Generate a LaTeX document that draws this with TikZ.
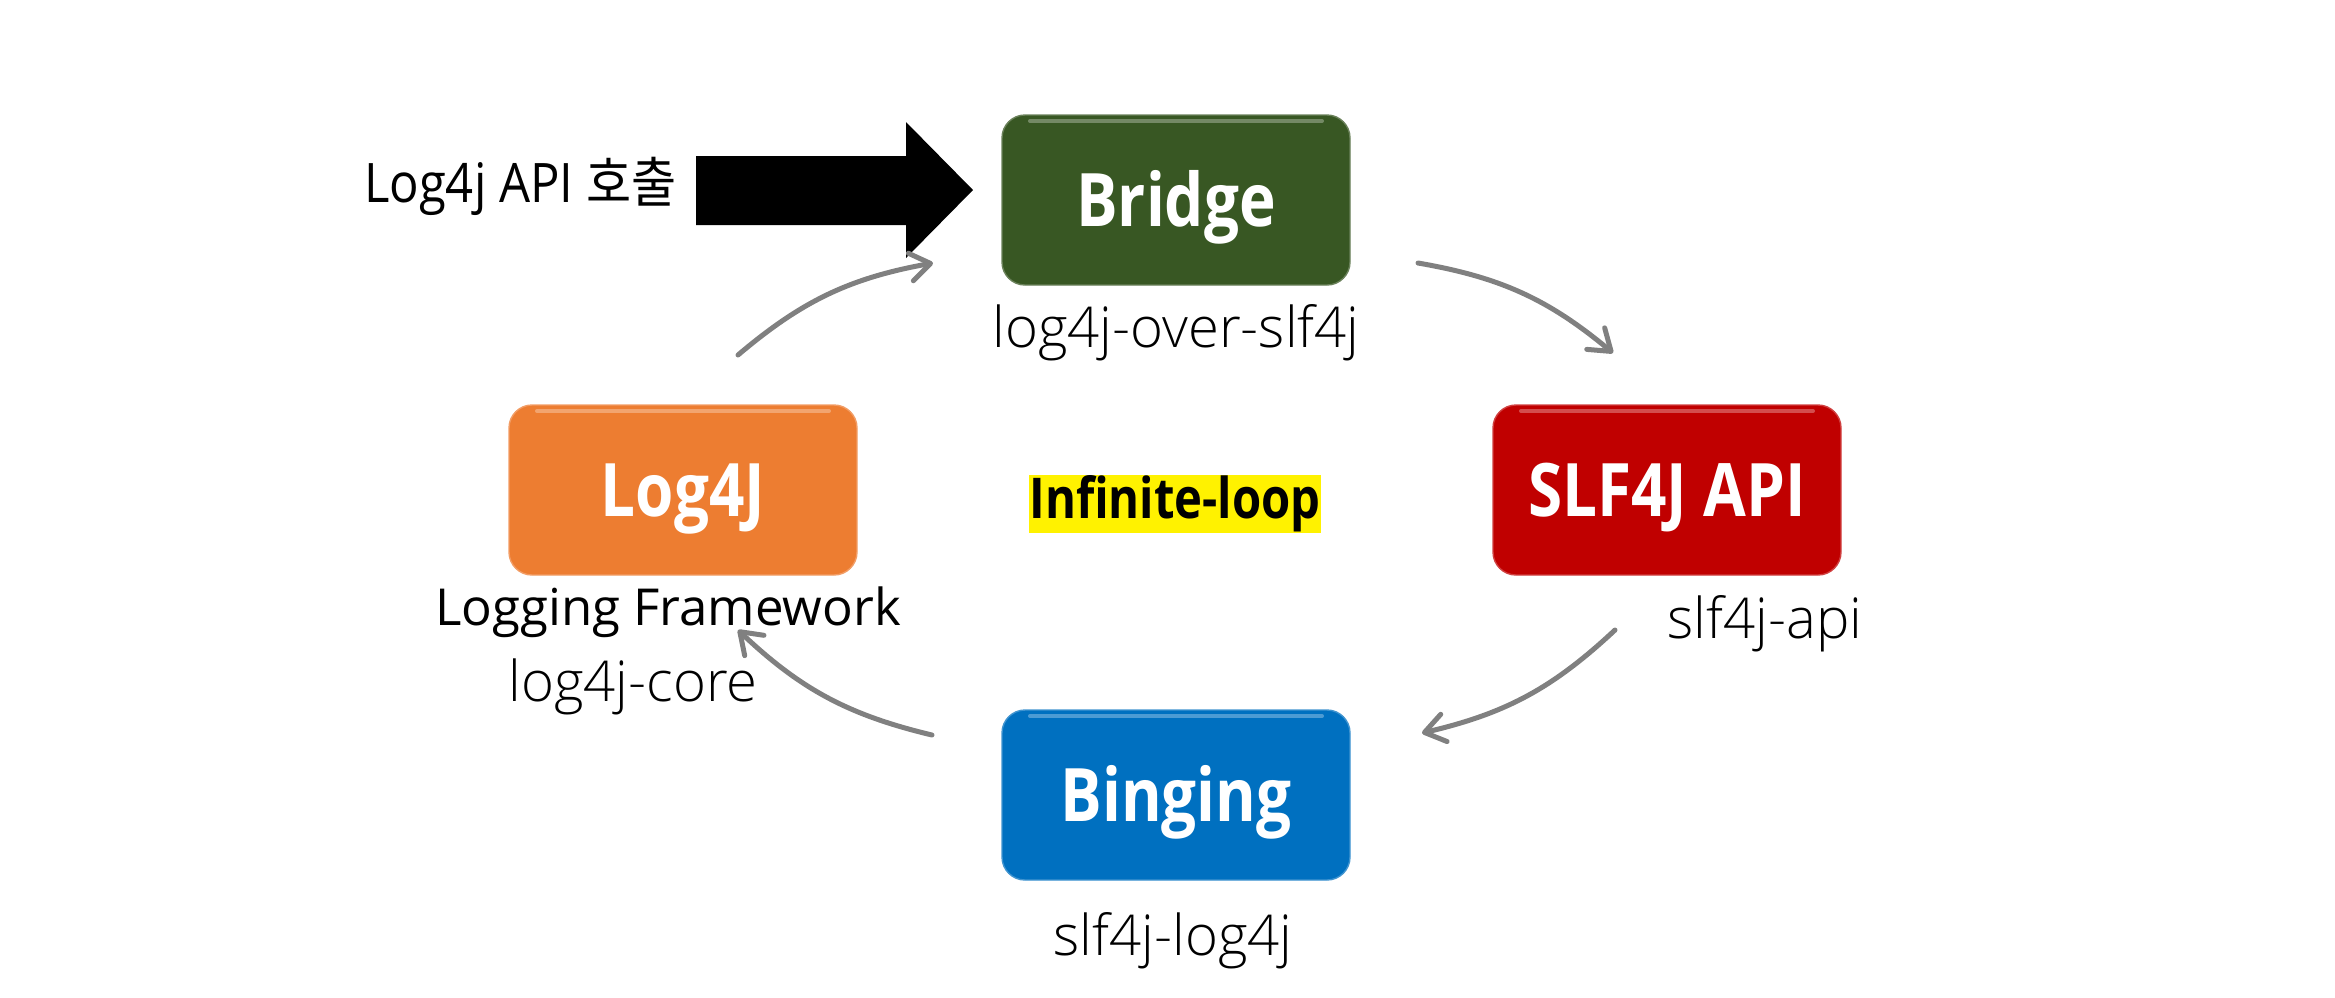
\documentclass[tikz,border=0pt]{standalone}
\usepackage{fontspec}
\setmainfont{Open Sans}
\newfontfamily\boxfont[FakeStretch=0.84]{Open Sans}
\newfontfamily\callfont[FakeStretch=0.9]{Open Sans}
\newfontfamily\krfont[FakeStretch=0.9]{Noto Sans CJK KR}
% thin face for the jar names, if one is there
\IfFontExistsTF{Open Sans Light}
  {\newfontfamily\thinfont{Open Sans Light}}
  {\IfFontExistsTF{Fira Sans Light}
    {\newfontfamily\thinfont[FakeStretch=1.04]{Fira Sans Light}}
    {\newfontfamily\thinfont{Open Sans}}}
\usetikzlibrary{arrows.meta, positioning}

\tikzset{
  modbox/.style={rounded corners=2.3mm, minimum width=34.8mm, minimum height=17mm,
    fill=#1, draw=#1!75!white, line width=0.4pt, text=white, inner sep=0pt,
    font=\boxfont\bfseries\fontsize{21pt}{25pt}\selectfont, text height=5.3mm, text depth=0pt,
    path picture={\draw[white, opacity=0.3, line width=0.4mm, line cap=round]
      ([xshift=2.8mm,yshift=-0.6mm]path picture bounding box.north west) --
      ([xshift=-2.8mm,yshift=-0.6mm]path picture bounding box.north east);}},
  jarname/.style={anchor=base, inner sep=0pt, font=\thinfont\fontsize{16pt}{19pt}\selectfont},
  loopline/.style={draw=gray, line width=0.5mm, line cap=round,
    -{Straight Barb[length=2mm,width=2.8mm,round]}, bend left=15}
}

\begin{document}
\begin{tikzpicture}[x=0.1mm, y=-0.1mm]
  \definecolor{bridgegreen}{RGB}{56,87,35}
  \definecolor{apired}{RGB}{192,0,0}
  \definecolor{coreorange}{RGB}{237,125,49}
  \definecolor{bindblue}{RGB}{0,112,192}

  \useasboundingbox (0,0) rectangle (2335,997);

  % the four modules
  \node[modbox=bridgegreen] (bridge) at (1176,200) {Bridge};
  \node[modbox=apired] (slfapi) at (1667,490) {SLF4J API};
  \node[modbox=bindblue] (binding) at (1176,795) {Binging};
  \node[modbox=coreorange] (logcore) at (683,490) {Log4J};

  % jar names
  \node[jarname] (bridgejar) at (1176,347) {log4j-over-slf4j};
  \node[jarname] (apijar) at (1765,638) {slf4j-api};
  \node[jarname] (bindjar) at (1173,955) {slf4j-log4j};
  \node[anchor=base, inner sep=0pt, font=\fontsize{14.5pt}{17pt}\selectfont] (framework) at (668,625) {Logging Framework};
  \node[jarname] (corejar) at (633,701) {log4j-core};

  \node[fill=yellow, inner sep=0pt, minimum height=5.8mm,
    font=\boxfont\bfseries\fontsize{16pt}{19pt}\selectfont] (loop) at (1175,504) {Infinite-loop};

  % call into the bridge
  \fill (696,156) -- (906,156) -- (906,122) -- (973,190) -- (906,258) -- (906,225) -- (696,225) -- cycle;
  \node[anchor=base east, inner sep=0pt, font=\callfont\fontsize{15.5pt}{18pt}\selectfont] (call) at (677,202)
    {Log4j API {\krfont 호출}};

  % the loop
  \coordinate (s1) at (738,355);  \coordinate (e1) at (933,263);
  \coordinate (s2) at (1418,263); \coordinate (e2) at (1613,353);
  \coordinate (s3) at (1615,630); \coordinate (e3) at (1422,733);
  \coordinate (s4) at (932,735);  \coordinate (e4) at (738,630);
  \draw[loopline] (s1) to (e1);
  \draw[loopline] (s2) to (e2);
  \draw[loopline] (s3) to (e3);
  \draw[loopline] (s4) to (e4);
\end{tikzpicture}
\end{document}
